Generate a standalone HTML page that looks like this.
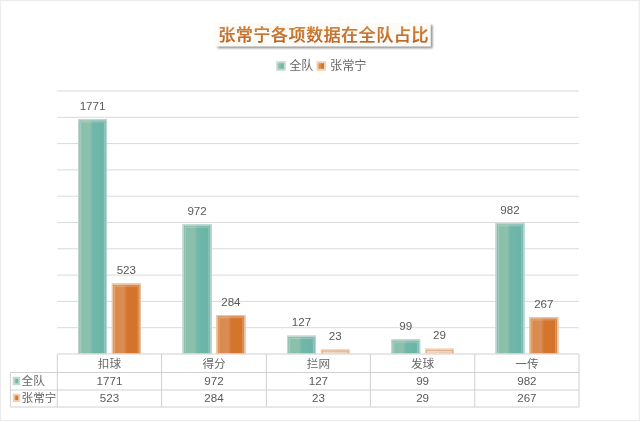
<!DOCTYPE html>
<html lang="zh-CN"><head><meta charset="utf-8"><title>张常宁各项数据在全队占比</title>
<style>
html,body{margin:0;padding:0;background:#fff;}
body{width:640px;height:429px;overflow:hidden;}
svg{display:block;}
text{font-family:"Liberation Sans","Noto Sans CJK SC",sans-serif;}
.t{font-size:11.6px;fill:#595959;text-anchor:middle;}
.l{font-size:11.6px;fill:#666666;}
.c{font-size:11.6px;fill:#666666;text-anchor:middle;}
</style></head><body>
<svg width="640" height="429" viewBox="0 0 640 429">
<defs>
<linearGradient id="ga" x1="0" x2="1" y1="0" y2="0">
<stop offset="0" stop-color="#84bfa9"/><stop offset="0.4" stop-color="#8dc1ac"/><stop offset="0.52" stop-color="#6fb7a9"/><stop offset="1" stop-color="#69b4a7"/>
</linearGradient>
<linearGradient id="gb" x1="0" x2="1" y1="0" y2="0">
<stop offset="0" stop-color="#d98844"/><stop offset="0.4" stop-color="#da8e55"/><stop offset="0.52" stop-color="#d5752d"/><stop offset="1" stop-color="#d47228"/>
</linearGradient>
<filter id="sh" x="-10%" y="-30%" width="125%" height="190%"><feGaussianBlur in="SourceAlpha" stdDeviation="1.3"/><feOffset dx="1.5" dy="2.2"/><feComponentTransfer><feFuncA type="linear" slope="0.45"/></feComponentTransfer><feMerge><feMergeNode/><feMergeNode in="SourceGraphic"/></feMerge></filter>
<linearGradient id="gt" gradientUnits="userSpaceOnUse" x1="0" x2="0" y1="25" y2="43"><stop offset="0" stop-color="#d8853a"/><stop offset="1" stop-color="#bb621d"/></linearGradient>
<clipPath id="plot"><rect x="0" y="0" width="640" height="353.5"/></clipPath>
</defs>
<rect x="0" y="0" width="640" height="429" fill="#ffffff"/>
<rect x="0.5" y="0.5" width="638.8" height="420" fill="none" stroke="#ececec" stroke-width="1.2"/>

<line x1="57.3" x2="579.0" y1="91.00" y2="91.00" stroke="#dadada" stroke-width="1"/>
<line x1="57.3" x2="579.0" y1="117.30" y2="117.30" stroke="#dadada" stroke-width="1"/>
<line x1="57.3" x2="579.0" y1="143.60" y2="143.60" stroke="#dadada" stroke-width="1"/>
<line x1="57.3" x2="579.0" y1="169.90" y2="169.90" stroke="#dadada" stroke-width="1"/>
<line x1="57.3" x2="579.0" y1="196.20" y2="196.20" stroke="#dadada" stroke-width="1"/>
<line x1="57.3" x2="579.0" y1="222.50" y2="222.50" stroke="#dadada" stroke-width="1"/>
<line x1="57.3" x2="579.0" y1="248.80" y2="248.80" stroke="#dadada" stroke-width="1"/>
<line x1="57.3" x2="579.0" y1="275.10" y2="275.10" stroke="#dadada" stroke-width="1"/>
<line x1="57.3" x2="579.0" y1="301.40" y2="301.40" stroke="#dadada" stroke-width="1"/>
<line x1="57.3" x2="579.0" y1="327.70" y2="327.70" stroke="#dadada" stroke-width="1"/>
<g clip-path="url(#plot)"><rect x="78.05" y="119.19" width="29.00" height="242.81" fill="url(#ga)"/><rect x="79.65" y="120.79" width="25.80" height="242.81" fill="none" stroke="#ffffff" stroke-opacity="0.26" stroke-width="3.2"/><rect x="78.80" y="119.94" width="27.50" height="242.81" fill="none" stroke="#c6d8d2" stroke-opacity="0.85" stroke-width="1.5"/><rect x="79.80" y="120.94" width="25.50" height="242.81" fill="none" stroke="#5a9f90" stroke-opacity="0.55" stroke-width="0.6"/></g>
<text class="t" x="92.55" y="109.89">1771</text>
<g clip-path="url(#plot)"><rect x="111.85" y="283.53" width="29.00" height="78.47" fill="url(#gb)"/><rect x="113.45" y="285.13" width="25.80" height="78.47" fill="none" stroke="#ffffff" stroke-opacity="0.26" stroke-width="3.2"/><rect x="112.60" y="284.28" width="27.50" height="78.47" fill="none" stroke="#f2cdac" stroke-opacity="0.85" stroke-width="1.5"/><rect x="113.60" y="285.28" width="25.50" height="78.47" fill="none" stroke="#bd6422" stroke-opacity="0.55" stroke-width="0.6"/></g>
<text class="t" x="126.35" y="274.23">523</text>
<g clip-path="url(#plot)"><rect x="182.60" y="224.41" width="29.00" height="137.59" fill="url(#ga)"/><rect x="184.20" y="226.01" width="25.80" height="137.59" fill="none" stroke="#ffffff" stroke-opacity="0.26" stroke-width="3.2"/><rect x="183.35" y="225.16" width="27.50" height="137.59" fill="none" stroke="#c6d8d2" stroke-opacity="0.85" stroke-width="1.5"/><rect x="184.35" y="226.16" width="25.50" height="137.59" fill="none" stroke="#5a9f90" stroke-opacity="0.55" stroke-width="0.6"/></g>
<text class="t" x="197.10" y="215.11">972</text>
<g clip-path="url(#plot)"><rect x="216.40" y="315.00" width="29.00" height="47.00" fill="url(#gb)"/><rect x="218.00" y="316.60" width="25.80" height="47.00" fill="none" stroke="#ffffff" stroke-opacity="0.26" stroke-width="3.2"/><rect x="217.15" y="315.75" width="27.50" height="47.00" fill="none" stroke="#f2cdac" stroke-opacity="0.85" stroke-width="1.5"/><rect x="218.15" y="316.75" width="25.50" height="47.00" fill="none" stroke="#bd6422" stroke-opacity="0.55" stroke-width="0.6"/></g>
<text class="t" x="230.90" y="305.70">284</text>
<g clip-path="url(#plot)"><rect x="287.00" y="335.68" width="29.00" height="26.32" fill="url(#ga)"/><rect x="288.60" y="337.28" width="25.80" height="26.32" fill="none" stroke="#ffffff" stroke-opacity="0.26" stroke-width="3.2"/><rect x="287.75" y="336.43" width="27.50" height="26.32" fill="none" stroke="#c6d8d2" stroke-opacity="0.85" stroke-width="1.5"/><rect x="288.75" y="337.43" width="25.50" height="26.32" fill="none" stroke="#5a9f90" stroke-opacity="0.55" stroke-width="0.6"/></g>
<text class="t" x="301.50" y="326.38">127</text>
<g clip-path="url(#plot)"><rect x="320.80" y="349.37" width="29.00" height="12.63" fill="url(#gb)" fill-opacity="0.38"/><rect x="322.40" y="350.97" width="25.80" height="12.63" fill="none" stroke="#ffffff" stroke-opacity="0.26" stroke-width="3.2"/><rect x="321.55" y="350.12" width="27.50" height="12.63" fill="none" stroke="#f2cdac" stroke-opacity="0.85" stroke-width="1.5"/><rect x="322.55" y="351.12" width="25.50" height="12.63" fill="none" stroke="#bd6422" stroke-opacity="0.55" stroke-width="0.6"/></g>
<text class="t" x="335.30" y="340.07">23</text>
<g clip-path="url(#plot)"><rect x="391.20" y="339.36" width="29.00" height="22.64" fill="url(#ga)"/><rect x="392.80" y="340.96" width="25.80" height="22.64" fill="none" stroke="#ffffff" stroke-opacity="0.26" stroke-width="3.2"/><rect x="391.95" y="340.11" width="27.50" height="22.64" fill="none" stroke="#c6d8d2" stroke-opacity="0.85" stroke-width="1.5"/><rect x="392.95" y="341.11" width="25.50" height="22.64" fill="none" stroke="#5a9f90" stroke-opacity="0.55" stroke-width="0.6"/></g>
<text class="t" x="405.70" y="330.06">99</text>
<g clip-path="url(#plot)"><rect x="425.00" y="348.58" width="29.00" height="13.42" fill="url(#gb)" fill-opacity="0.38"/><rect x="426.60" y="350.18" width="25.80" height="13.42" fill="none" stroke="#ffffff" stroke-opacity="0.26" stroke-width="3.2"/><rect x="425.75" y="349.33" width="27.50" height="13.42" fill="none" stroke="#f2cdac" stroke-opacity="0.85" stroke-width="1.5"/><rect x="426.75" y="350.33" width="25.50" height="13.42" fill="none" stroke="#bd6422" stroke-opacity="0.55" stroke-width="0.6"/></g>
<text class="t" x="439.50" y="339.28">29</text>
<g clip-path="url(#plot)"><rect x="495.50" y="223.09" width="29.00" height="138.91" fill="url(#ga)"/><rect x="497.10" y="224.69" width="25.80" height="138.91" fill="none" stroke="#ffffff" stroke-opacity="0.26" stroke-width="3.2"/><rect x="496.25" y="223.84" width="27.50" height="138.91" fill="none" stroke="#c6d8d2" stroke-opacity="0.85" stroke-width="1.5"/><rect x="497.25" y="224.84" width="25.50" height="138.91" fill="none" stroke="#5a9f90" stroke-opacity="0.55" stroke-width="0.6"/></g>
<text class="t" x="510.00" y="213.79">982</text>
<g clip-path="url(#plot)"><rect x="529.30" y="317.24" width="29.00" height="44.76" fill="url(#gb)"/><rect x="530.90" y="318.84" width="25.80" height="44.76" fill="none" stroke="#ffffff" stroke-opacity="0.26" stroke-width="3.2"/><rect x="530.05" y="317.99" width="27.50" height="44.76" fill="none" stroke="#f2cdac" stroke-opacity="0.85" stroke-width="1.5"/><rect x="531.05" y="318.99" width="25.50" height="44.76" fill="none" stroke="#bd6422" stroke-opacity="0.55" stroke-width="0.6"/></g>
<text class="t" x="543.80" y="307.94">267</text>
<line x1="57.3" x2="579.0" y1="354.0" y2="354.0" stroke="#d0d0d0" stroke-width="1"/>
<line x1="10.4" x2="579.0" y1="372.5" y2="372.5" stroke="#d0d0d0" stroke-width="1"/>
<line x1="10.4" x2="579.0" y1="390.0" y2="390.0" stroke="#d0d0d0" stroke-width="1"/>
<line x1="10.4" x2="579.0" y1="407.0" y2="407.0" stroke="#d0d0d0" stroke-width="1"/>
<line x1="57.30" x2="57.30" y1="354.0" y2="407.0" stroke="#d0d0d0" stroke-width="1"/>
<line x1="161.60" x2="161.60" y1="354.0" y2="407.0" stroke="#d0d0d0" stroke-width="1"/>
<line x1="266.40" x2="266.40" y1="354.0" y2="407.0" stroke="#d0d0d0" stroke-width="1"/>
<line x1="370.40" x2="370.40" y1="354.0" y2="407.0" stroke="#d0d0d0" stroke-width="1"/>
<line x1="474.80" x2="474.80" y1="354.0" y2="407.0" stroke="#d0d0d0" stroke-width="1"/>
<line x1="579.00" x2="579.00" y1="354.0" y2="407.0" stroke="#d0d0d0" stroke-width="1"/>
<line x1="10.4" x2="10.4" y1="372.5" y2="407.0" stroke="#d0d0d0" stroke-width="1"/>
<text class="c" x="109.45" y="367.6">扣球</text>
<text class="t" x="109.45" y="384.8">1771</text>
<text class="t" x="109.45" y="402.2">523</text>
<text class="c" x="214.00" y="367.6">得分</text>
<text class="t" x="214.00" y="384.8">972</text>
<text class="t" x="214.00" y="402.2">284</text>
<text class="c" x="318.40" y="367.6">拦网</text>
<text class="t" x="318.40" y="384.8">127</text>
<text class="t" x="318.40" y="402.2">23</text>
<text class="c" x="422.60" y="367.6">发球</text>
<text class="t" x="422.60" y="384.8">99</text>
<text class="t" x="422.60" y="402.2">29</text>
<text class="c" x="526.90" y="367.6">一传</text>
<text class="t" x="526.90" y="384.8">982</text>
<text class="t" x="526.90" y="402.2">267</text>
<rect x="13.75" y="377.75" width="5.5" height="6.5" fill="url(#ga)" stroke="#c0dad1" stroke-width="2"/>
<text class="l" x="21.6" y="385.1">全队</text>
<rect x="13.75" y="394.6" width="5.5" height="6.5" fill="url(#gb)" stroke="#f2d0b3" stroke-width="2"/>
<text class="l" x="21.6" y="402.2">张常宁</text>
<rect x="215.5" y="23" width="215" height="23.2" fill="#fefbf7" filter="url(#sh)"/>
<text x="324.0" y="41.1" text-anchor="middle" font-size="17" letter-spacing="0.55" font-weight="500" fill="#7a4212" fill-opacity="0.4">张常宁各项数据在全队占比</text>
<text x="323.5" y="40.5" text-anchor="middle" font-size="17" letter-spacing="0.55" font-weight="500" fill="url(#gt)">张常宁各项数据在全队占比</text>
<rect x="277.25" y="62.25" width="7.5" height="7.5" fill="url(#ga)" stroke="#c0dad1" stroke-width="2"/>
<text class="l" style="font-size:12px" x="289.3" y="70.2">全队</text>
<rect x="317.5" y="62.25" width="7.5" height="7.5" fill="url(#gb)" stroke="#f2d0b3" stroke-width="2"/>
<text class="l" style="font-size:12.2px" x="330" y="70.3">张常宁</text>
</svg></body></html>
